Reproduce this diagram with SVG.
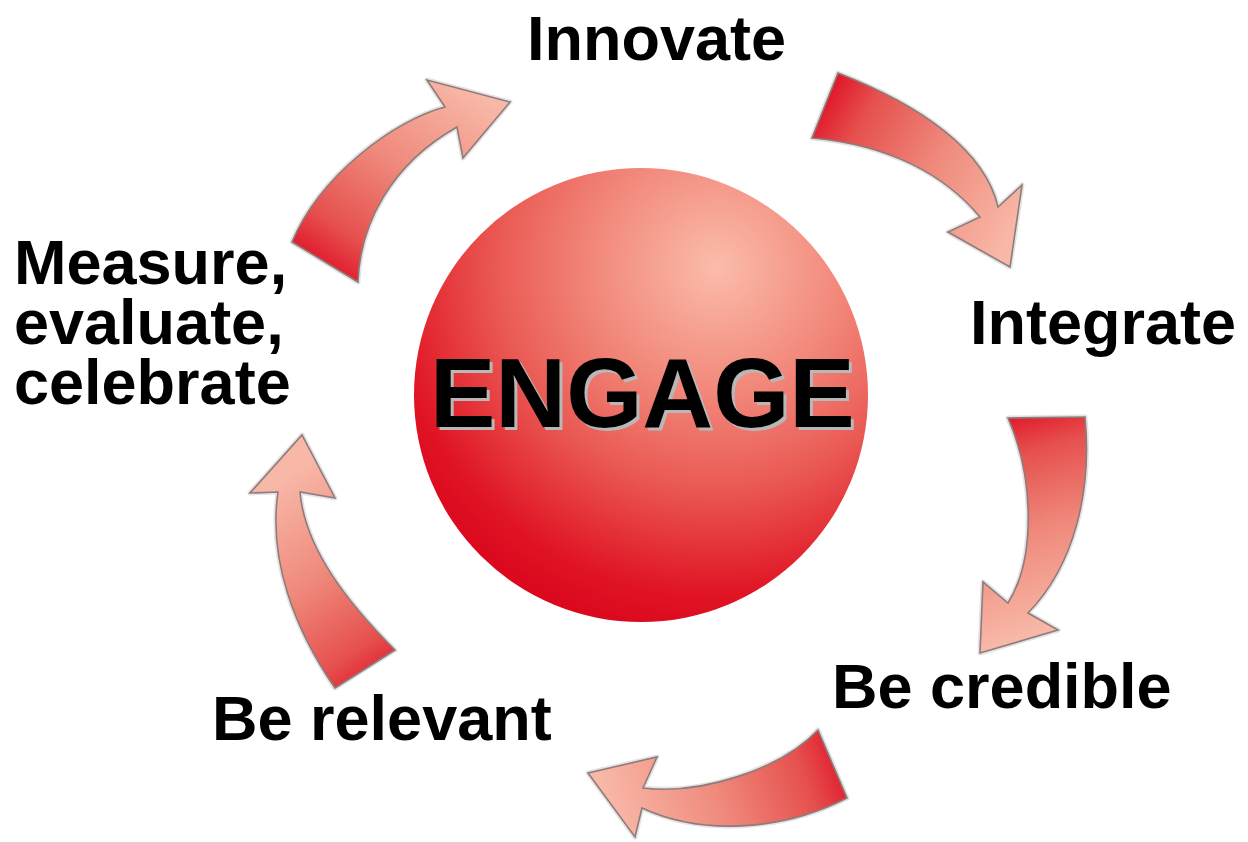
<svg xmlns="http://www.w3.org/2000/svg" xmlns:xlink="http://www.w3.org/1999/xlink" width="1248" height="842" viewBox="0 0 1248 842">
  <style>
    .lbl { font-family: "Liberation Sans", Arial, sans-serif; font-weight: bold; font-size: 63px; fill: #000; }
    .big { font-family: "Liberation Sans", Arial, sans-serif; font-weight: bold; font-size: 98px; }
    .halo { fill: none; stroke: #e6e2e2; stroke-width: 5; stroke-linejoin: round; }
    .arrow { stroke: #8c7c7c; stroke-width: 1.6; stroke-linejoin: miter; }
  </style>
  <defs>
    <radialGradient id="sphere" gradientUnits="userSpaceOnUse" cx="717" cy="267" fx="717" fy="267" r="400">
      <stop offset="0" stop-color="#fbbcab"/>
      <stop offset="0.3" stop-color="#f28a7c"/>
      <stop offset="0.55" stop-color="#ea5a54"/>
      <stop offset="0.82" stop-color="#e01424"/>
      <stop offset="1" stop-color="#d8001a"/>
    </radialGradient>
    <linearGradient id="ag" gradientUnits="objectBoundingBox">
      <stop offset="0" stop-color="#e01a2c"/>
      <stop offset="0.18" stop-color="#e6504e"/>
      <stop offset="0.55" stop-color="#ef8a7c"/>
      <stop offset="1" stop-color="#f8b8a8"/>
    </linearGradient>
    <linearGradient id="g1" xlink:href="#ag" gradientUnits="userSpaceOnUse" x1="350" y1="285" x2="480" y2="95"/>
    <linearGradient id="g2" xlink:href="#ag" gradientUnits="userSpaceOnUse" x1="812" y1="125" x2="1010" y2="240"/>
    <linearGradient id="g3" xlink:href="#ag" gradientUnits="userSpaceOnUse" x1="1005" y1="418" x2="1065" y2="625"/>
    <linearGradient id="g4" xlink:href="#ag" gradientUnits="userSpaceOnUse" x1="835" y1="735" x2="610" y2="810"/>
    <linearGradient id="g5" xlink:href="#ag" gradientUnits="userSpaceOnUse" x1="395" y1="672" x2="265" y2="490"/>
    <path id="p1" d="M292,242 L358,282 C360,225 390,165 457,127 L463,158 L510,102 L427,80 L445,107 C395,120 320,175 292,242 Z"/>
    <path id="p2" d="M838,73 C920,105 985,150 998,207 L1022,185 L1010,267 L948,232 L980,217 C945,175 890,145 812,138 Z"/>
    <path id="p3" d="M1008,418 L1085,417 C1092,490 1075,565 1028,613 L1058,630 L980,653 L983,582 L1008,603 C1035,560 1035,480 1008,418 Z"/>
    <path id="p4" d="M818,730 L847,798 C780,832 700,835 642,808 L635,837 L588,773 L657,757 L643,788 C700,795 780,770 818,730 Z"/>
    <path id="p5" d="M335,688 L395,650 C350,605 305,550 300,492 L335,498 L302,435 L250,493 L278,492 C268,560 295,630 335,688 Z"/>
  </defs>
  <rect width="1248" height="842" fill="#ffffff"/>

  <g id="connectors">
    <use xlink:href="#p1" class="halo"/>
    <use xlink:href="#p1" class="arrow" fill="url(#g1)"/>
    <use xlink:href="#p2" class="halo"/>
    <use xlink:href="#p2" class="arrow" fill="url(#g2)"/>
    <use xlink:href="#p3" class="halo"/>
    <use xlink:href="#p3" class="arrow" fill="url(#g3)"/>
    <use xlink:href="#p4" class="halo"/>
    <use xlink:href="#p4" class="arrow" fill="url(#g4)"/>
    <use xlink:href="#p5" class="halo"/>
    <use xlink:href="#p5" class="arrow" fill="url(#g5)"/>
  </g>

  <g id="engage">
    <circle cx="641" cy="395" r="227" fill="url(#sphere)"/>
    <text class="big" x="433" y="430" fill="#b8b8b8">ENGAGE</text>
    <text class="big" x="430" y="427" fill="#000000">ENGAGE</text>
  </g>

  <g id="innovate"><text class="lbl" x="527" y="60">Innovate</text></g>
  <g id="integrate"><text class="lbl" x="970" y="344">Integrate</text></g>
  <g id="be-credible"><text class="lbl" x="832" y="708">Be credible</text></g>
  <g id="be-relevant"><text class="lbl" x="212" y="740">Be relevant</text></g>
  <g id="measure">
    <text class="lbl" x="14" y="284">Measure,</text>
    <text class="lbl" x="14" y="344">evaluate,</text>
    <text class="lbl" x="14" y="404">celebrate</text>
  </g>
</svg>
